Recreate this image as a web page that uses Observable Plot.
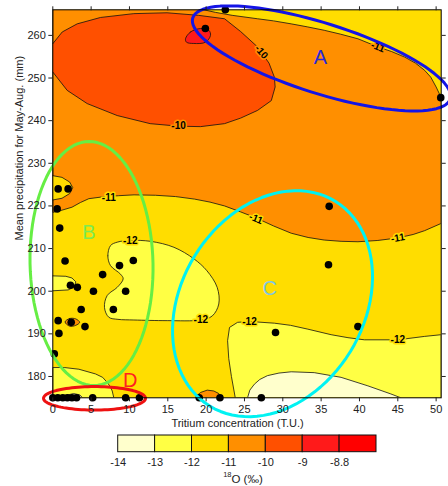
<!DOCTYPE html>
<html><head><meta charset="utf-8">
<script src="https://cdn.jsdelivr.net/npm/d3@7"></script>
<script src="https://cdn.jsdelivr.net/npm/@observablehq/plot@0.6"></script>
<style>
body{margin:0;background:#fff;}
#chart svg, #legend svg{display:block;}
</style></head><body><div id="chart"></div><div id="legend"></div>
<script>
// ---- sample points (tritium T.U., precipitation mm)
const tritiumTU = [22.5,19.9,50.6,0.7,2.0,0.57,0.9,1.6,2.3,3.2,5.3,6.5,8.7,10.5,9.5,7.9,3.7,0.7,2.4,4.2,0.8,0.2,0,0.65,1.3,1.9,2.5,3.1,5.2,9.5,11.3,19.1,21.8,27.2,36.05,35.96,39.8,29.05];
const precipMM  = [266,261.6,245.4,224.0,224.0,219.3,214.8,207.1,201.4,200.9,200.0,203.9,206.0,207.2,200.0,195.7,195.7,193.1,192.7,191.7,190.1,185.3,175,175,175,175,175,175,175,175,175,175,175,175,219.9,206.2,191.7,190.3];

// ---- axis ticks
const xTicks = [0,5,10,15,20,25,30,35,40,45,50];
const yTicks = [180,190,200,210,220,230,240,250,260];

// ---- d18O classes (legend)
const levelLabels = ["-14","-13","-12","-11","-10","-9","-8.8"];
const levelColors = ["#FFFFCC","#FFFF44","#FFDD00","#FF8F00","#FF5000","#FF1A1A","#FF0000"];

// ---- contour lines [tritium, precipitation]
const c11Main = [[0,218.5],[1.0,218.9],[2.5,219.7],[3.6,220.8],[4.7,221.7],[6.4,222.1],[8.6,222.4],[10.6,222.6],[13.4,222.5],[16,222.2],[18.5,221.6],[20.5,220.9],[22.4,220.0],[24.5,218.6],[26.5,217.2],[28.8,215.3],[31.1,213.6],[33.3,212.6],[35.4,212.0],[37.6,211.7],[39.8,211.6],[42.4,211.9],[45.0,212.5],[47,213.3],[48.5,214.2],[50.66,215.9]];
const c11Upper = [[50.66,245.4],[50.0,247.9],[49.3,250.2],[48.5,251.8],[47.3,253.5],[45.9,254.9],[44.2,256.2],[42.4,257.3],[39.8,259.2],[37.5,260.3],[35.4,261.2],[33.2,262.0],[31.1,262.7],[28.8,263.4],[26.7,263.9],[23.4,264.7],[21.2,265.4],[19.7,266]];
const c11LeftBump = [[0,227.1],[1.2,226.7],[2.2,225.6],[2.6,224.3],[2.2,222.9],[1.2,221.8],[0,221.4]];
const c10 = [[0,258.05],[1.23,260.8],[3.18,262.7],[6.22,264.2],[10.56,265.1],[14.9,265.3],[19.0,264.7],[22.4,263.9],[24.5,260.9],[26.7,257.3],[28.2,253.5],[28.9,250.2],[29.0,247.9],[28.5,244.7],[26.7,242.4],[24.5,240.6],[22.4,239.3],[19.27,238.6],[16.4,238.7],[12.7,239.3],[8.4,241.2],[4.49,244.0],[1.88,247.1],[0,251.4]];
const c9Blob = [[17.31,259.2],[17.96,260.8],[19.27,261.6],[20.35,261.2],[20.57,260],[19.92,258.4],[18.39,258.1],[17.44,258.4]];
const c12Left = [[0,203.6],[1.7,203.5],[2.5,203.1],[3.0,202.2],[2.8,201.0],[2.0,200.3],[0,200.1]];
const c12Middle = [[7.53,210.7],[7.18,208.3],[7.53,206.0],[8.83,204.0],[9.18,202.9],[8.4,200.9],[7.1,199.0],[6.74,196.2],[7.3,193.9],[8.5,193.4],[10.57,193.25],[14.92,193.1],[19.26,193.25],[20.8,194.2],[21.65,197.0],[21.44,200.9],[20.1,204.8],[18.4,207.6],[15.8,210.3],[12.74,211.7],[10.13,211.9],[8.4,211.5]];
const c12BottomLeft = [[0,182.1],[1.5,182.1],[3.4,181.7],[5.57,180.6],[6.5,179.8],[7.1,178.6],[7.5,177.6],[7.75,176.6],[7.96,175]];
const c12Right = [[23.8,175],[23.3,180],[22.95,184.2],[22.8,188.4],[23.05,191.5],[24.1,192.7],[25.65,192.9],[28.9,192.5],[31,192],[33.26,191.1],[36.3,189.8],[38.5,189.1],[40.65,188.6],[45.0,188.6],[48.5,189.4],[50.66,189.8]];
const c13Right = [[25.4,175],[25.7,176.8],[26.3,178.2],[27.0,179.3],[28.0,180.2],[29.5,180.8],[31.1,181.1],[34.1,180.9],[37.6,179.8],[41.1,177.8],[44.1,175.9],[45.4,175]];
const c13Tiny = [[1.3,175],[1.8,175.6],[2.7,176.0],[3.5,175.7],[3.9,175]];
const c11Blob = [[1.6,192.8],[2.2,193.6],[3.0,193.5],[3.5,192.7],[3.0,192.0],[2.2,191.8]];
const c11Bottom = [[18.6,175],[18.8,175.5],[19.27,176.25],[20.14,176.8],[21.0,176.6],[21.65,176.0],[22.1,175]];

// ---- contour labels
const labelText = ["-10","-10","-11","-11","-11","-11","-12","-12","-12","-12"];
const labelX    = [27.2,16.4,42.4,7.3,26.5,45.0,10.1,19.3,25.65,45.0];
const labelY    = [256.1,238.7,257.3,222.0,217.0,212.5,211.8,193.3,192.9,188.6];
const labelRot  = [48,0,21,0,22,-9,0,0,0,0];
const labelBg   = [3,3,3,2,2,2,2,2,2,2];

// ---- annotation ellipses (centre, two conjugate semi-axes, in data units)
const groupNames = ["A","B","C","D"];
const ellCx = [35.05,5.05,28.66,5.44];
const ellCy = [254.6,206.5,197.07,174.88];
const ellU  = [[16.79,-9.51],[8.02,0],[8.18,24.02],[6.65,0]];
const ellV  = [[-1.37,-7.84],[0.3,-28.6],[10.16,-11.2],[0,2.75]];
const ellStroke = ["#1414E6","#66EE44","#00F2F2","#EE1111"];
const groupLabelX = [34.9,4.7,28.3,10.1];
const groupLabelY = [254.9,213.8,200.5,179.0];
const groupLabelColor = ["#2A2AD8","#7CEB50","#7FC6E4","#FF2020"];

// ---------------------------------------------------------------
const font = "Liberation Sans, Arial, Helvetica, sans-serif";
const X = d => d[0], Y = d => d[1];
function region(pts, fill, curve = "linear") {
  return Plot.line(pts, {x: X, y: Y, fill, stroke: "#111", strokeWidth: 0.8, curve, clip: true, strokeLinejoin: "round"});
}
const pts = tritiumTU.map((t, i) => ({t, p: precipMM[i]}));
const ellipses = [];
groupNames.forEach((g, k) => {
  for (let j = 0; j <= 96; j++) {
    const a = 2 * Math.PI * j / 96;
    ellipses.push({g, x: ellCx[k] + ellU[k][0] * Math.cos(a) + ellV[k][0] * Math.sin(a),
                      y: ellCy[k] + ellU[k][1] * Math.cos(a) + ellV[k][1] * Math.sin(a)});
  }
});
const labels = labelText.map((t, i) => ({t, x: labelX[i], y: labelY[i], r: labelRot[i], bg: levelColors[labelBg[i]]}));

const main = Plot.plot({
  width: 448, height: 432,
  marginLeft: 52.3, marginRight: 7.3, marginTop: 9.3, marginBottom: 34.7,
  style: {fontFamily: font, fontSize: "11px", color: "#222", background: "white"},
  x: {domain: [0, 50.66]},
  y: {domain: [175, 266]},
  marks: [
    Plot.frame({fill: levelColors[2], stroke: null}),
    region([[0,266], ...c11Main, ...c11Upper], levelColors[3]),
    region(c11LeftBump, levelColors[2]),
    region(c10, levelColors[4]),
    region(c9Blob, levelColors[5], "catmull-rom-closed"),
    region(c12Left, levelColors[1]),
    region(c12Middle, levelColors[1], "catmull-rom-closed"),
    region([[0,175], ...c12BottomLeft], levelColors[1]),
    region([...c12Right, [50.66,175]], levelColors[1]),
    region(c13Right, levelColors[0]),
    region(c13Tiny, levelColors[0]),
    region(c11Blob, levelColors[3], "catmull-rom-closed"),
    region(c11Bottom, levelColors[3]),
    ...labels.map(l => Plot.text([l], {x: "x", y: "y", text: "t", rotate: l.r, fill: "black", stroke: l.bg, strokeWidth: 3, fontWeight: "bold", fontSize: 10})),
    Plot.dot(pts, {x: "t", y: "p", r: 3.8, fill: "black"}),
    Plot.line(ellipses, {x: "x", y: "y", z: "g", stroke: d => ellStroke[groupNames.indexOf(d.g)], strokeWidth: 3, curve: "linear"}),
    Plot.text(groupNames, {x: (d, i) => groupLabelX[i], y: (d, i) => groupLabelY[i], text: d => d, fill: (d, i) => groupLabelColor[i], fontSize: 20}),
    Plot.frame({stroke: "black", strokeWidth: 1}),
    Plot.axisX({ticks: xTicks, tickSize: 4, tickPadding: 3, label: null, anchor: "bottom"}),
    Plot.axisX({ticks: xTicks, tickSize: 4, tickFormat: () => "", label: null, anchor: "top"}),
    Plot.axisY({ticks: yTicks, tickSize: 4, tickPadding: 3, label: null, anchor: "left"}),
    Plot.axisY({ticks: yTicks, tickSize: 4, tickFormat: () => "", label: null, anchor: "right"}),
    Plot.text(["Tritium concentration (T.U.)"], {frameAnchor: "bottom", dx: -9.5, dy: 28.7, fontSize: 11, fill: "#222"}),
    Plot.text(["Mean precipitation for May-Aug. (mm)"], {frameAnchor: "left", rotate: -90, dx: -33.3, dy: 36.7, fontSize: 11, fill: "#222"})
  ]
});
main.querySelectorAll("[stroke]").forEach(() => {});
document.getElementById("chart").appendChild(main);

// ---- legend
const legendCells = levelColors.map((c, i) => ({i, c}));
const legend = Plot.plot({
  width: 448, height: 54,
  marginLeft: 0, marginRight: 0, marginTop: 0, marginBottom: 0,
  style: {fontFamily: font, fontSize: "11px", color: "#222", background: "white"},
  x: {domain: [0, 7], range: [117.7, 376], axis: null},
  y: {domain: [0, 1], range: [19.7, 3], axis: null},
  color: {type: "identity"},
  marks: [
    Plot.rect(legendCells, {x1: "i", x2: d => d.i + 1, y1: 0, y2: 1, fill: "c", stroke: "#111", strokeWidth: 1}),
    Plot.text(levelLabels, {x: (d, i) => i, y: -0.6, text: d => d, fontSize: 11, fill: "#222"}),
    Plot.text(["18"], {x: 3.07, y: -1.6, text: d => d, textAnchor: "end", dy: -4, fontSize: 7.5, fill: "#222"}),
    Plot.text(["O (‰)"], {x: 3.07, y: -1.6, text: d => d, textAnchor: "start", fontSize: 11.5, fill: "#222"})
  ]
});
document.getElementById("legend").appendChild(legend);
</script></body></html>
